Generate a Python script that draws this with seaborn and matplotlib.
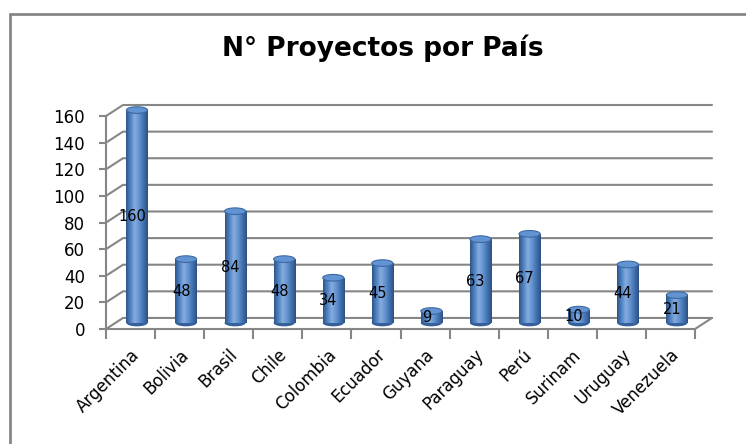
import numpy as np
import pandas as pd
import matplotlib
matplotlib.use("Agg")
import matplotlib.pyplot as plt
import seaborn as sns
from matplotlib.colors import LinearSegmentedColormap
from matplotlib.patches import Ellipse
from matplotlib.lines import Line2D

paises = ['Argentina', 'Bolivia', 'Brasil', 'Chile', 'Colombia', 'Ecuador',
          'Guyana', 'Paraguay', 'Perú', 'Surinam', 'Uruguay', 'Venezuela']
proyectos = [160, 48, 84, 48, 34, 45, 9, 63, 67, 10, 44, 21]
y_ticks = [0, 20, 40, 60, 80, 100, 120, 140, 160]
titulo = 'N° Proyectos por País'

df = pd.DataFrame({'Pais': paises, 'Proyectos': proyectos})

sns.set_style('white')
plt.rcParams['font.family'] = ['DejaVu Sans']
plt.rcParams['text.color'] = 'black'

grey = '#868686'
blue = '#4F81BD'
n = len(paises)

# pseudo 3D depth (data units)
dxc = 0.346
dyv = 8.3
ymax = y_ticks[-1]

fig = plt.figure(figsize=(7.46, 4.44), dpi=100)
ax = fig.add_axes([0.1421, 0.2590, 0.8123, 0.5045])

sns.barplot(data=df, x='Pais', y='Proyectos', color=blue, width=0.43,
            saturation=1, ax=ax, zorder=3)

ax.set_xlim(-0.5, n - 0.5 + dxc)
ax.set_ylim(0, ymax + dyv)

# back wall + side wall gridlines
for v in y_ticks:
    ax.plot([-0.5, -0.5 + dxc, n - 0.5 + dxc], [v, v + dyv, v + dyv],
            color=grey, lw=1.5, zorder=1, clip_on=False)
ax.plot([n - 0.5, n - 0.5 + dxc], [0, dyv], color=grey, lw=1.5, zorder=1, clip_on=False)

# cylinder shading
cmap = LinearSegmentedColormap.from_list(
    'cyl', ['#2F5589', '#4F82C2', '#86ACDE', '#6393D0', '#4272AE', '#2D5083'])
grad = np.linspace(0, 1, 64).reshape(1, -1)

x_off = 0.13
y_off = 4.5
cap_h = 5.0
for p, val in zip(ax.patches, proyectos):
    p.set_x(p.get_x() + x_off)
    p.set_y(y_off)
    p.set_edgecolor('none')
    x0, w, h = p.get_x(), p.get_width(), p.get_height()
    cx = x0 + w / 2
    # bottom half ellipse
    ax.add_patch(Ellipse((cx, y_off), w, cap_h, facecolor='#35609A',
                         edgecolor='none', zorder=2, clip_on=False))
    im = ax.imshow(grad, cmap=cmap, aspect='auto', zorder=3.5,
                   extent=[x0, x0 + w, y_off, y_off + h])
    im.set_clip_path(p)
    # top cap
    ax.add_patch(Ellipse((cx, y_off + h), w, cap_h, facecolor='#6293D2',
                         edgecolor='#3D6AA4', lw=0.8, zorder=4, clip_on=False))
    ax.text(cx - 0.1, y_off + h / 2, str(val), ha='center', va='center',
            fontsize=10.5, color='black', zorder=5)

ax.set_xlim(-0.5, n - 0.5 + dxc)
ax.set_ylim(0, ymax + dyv)

# axes styling
for s in ['top', 'right']:
    ax.spines[s].set_visible(False)
ax.spines['left'].set_bounds(0, ymax)
ax.spines['bottom'].set_bounds(-0.5, n - 0.5)
for s in ['left', 'bottom']:
    ax.spines[s].set_color(grey)
    ax.spines[s].set_linewidth(1.5)
    ax.spines[s].set_zorder(1)

ax.set_yticks(y_ticks)
ax.set_yticklabels([str(t) for t in y_ticks], fontsize=12)
ax.tick_params(axis='y', length=5, width=1.5, color=grey, pad=10, left=True,
               labelcolor='black')

ax.set_xticks(range(n))
ax.set_xticklabels(paises, rotation=45, ha='right', rotation_mode='anchor', fontsize=12)
ax.set_xticks(np.arange(-0.5, n, 1.0), minor=True)
ax.tick_params(axis='x', which='major', length=0, pad=12, labelcolor='black')
ax.tick_params(axis='x', which='minor', length=7, width=1.5, color=grey, bottom=True)

ax.set_xlabel(None)
ax.set_ylabel(None)
ax.grid(False)

fig.text(383 / 746, 1 - 48 / 444, titulo, ha='center', va='center',
         fontsize=19, fontweight='bold', color='black')

# chart frame
fig.add_artist(Line2D([10 / 746, 10 / 746], [0, 1 - 14 / 444], color=grey, lw=2,
                      transform=fig.transFigure))
fig.add_artist(Line2D([10 / 746, 1], [1 - 14 / 444, 1 - 14 / 444], color=grey, lw=2,
                      transform=fig.transFigure))

fig.savefig('out.png', dpi=100)
